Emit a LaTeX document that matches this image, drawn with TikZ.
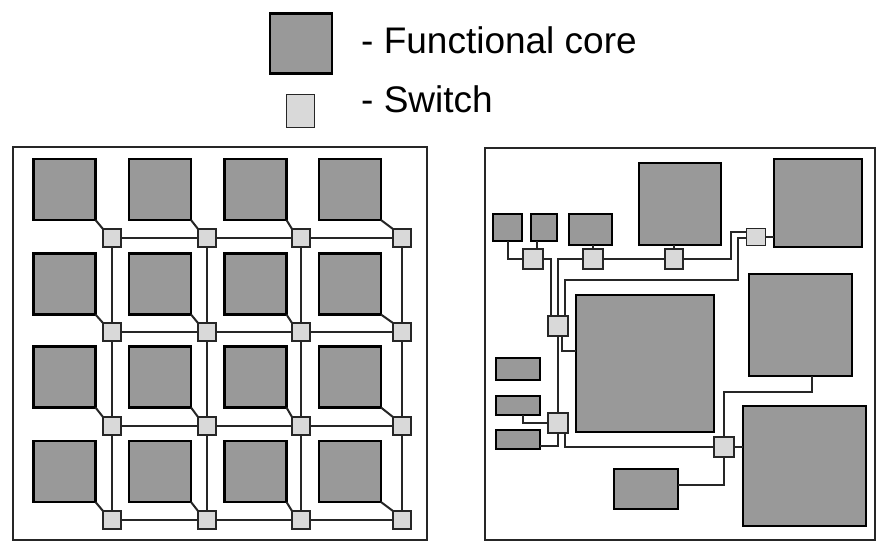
\documentclass[tikz,border=0pt]{standalone}
\usepackage{fontspec}
\setmainfont{Liberation Sans}
\begin{document}
\begin{tikzpicture}[
    x=1pt, y=-1pt,
    core/.style={rectangle, draw=black, line width=2.2pt, fill=black!40, inner sep=0pt, outer sep=0pt},
    gridcore/.style={core, minimum width=62pt, minimum height=61pt},
    sw/.style={rectangle, draw=black!85, line width=1.8pt, fill=black!15, inner sep=0pt, outer sep=0pt, minimum size=18pt},
    link/.style={draw=black!85, line width=2pt},
    legendtext/.style={font=\fontsize{37}{40}\selectfont, anchor=base west, inner sep=0pt}
]
\useasboundingbox (0,0) rectangle (876,542);

% Legend
\node[core, minimum width=62pt, minimum height=60pt] (lcore) at (301,43.5) {};
\node[sw, minimum width=28pt, minimum height=33pt] (lsw) at (300.5,111) {};
\node[legendtext] (tcore) at (361,53) {- Functional core};
\node[legendtext] (tsw) at (361,112) {- Switch};

% Panels
\draw[line width=2pt, draw=black!85] (13,147) rectangle (427,540);
\draw[line width=2pt, draw=black!85] (485,148) rectangle (875,540);

% Mesh - cores
\node[gridcore] (c11) at (64.5,189.5) {}; \node[gridcore] (c12) at (160,189.5) {}; \node[gridcore] (c13) at (255.5,189.5) {}; \node[gridcore] (c14) at (350,189.5) {};
\node[gridcore] (c21) at (64.5,284) {};   \node[gridcore] (c22) at (160,284) {};   \node[gridcore] (c23) at (255.5,284) {};   \node[gridcore] (c24) at (350,284) {};
\node[gridcore] (c31) at (64.5,377) {};   \node[gridcore] (c32) at (160,377) {};   \node[gridcore] (c33) at (255.5,377) {};   \node[gridcore] (c34) at (350,377) {};
\node[gridcore] (c41) at (64.5,471.5) {}; \node[gridcore] (c42) at (160,471.5) {}; \node[gridcore] (c43) at (255.5,471.5) {}; \node[gridcore] (c44) at (350,471.5) {};

% Mesh - switches
\node[sw] (s11) at (112,238) {}; \node[sw] (s12) at (207,238) {}; \node[sw] (s13) at (301,238) {}; \node[sw] (s14) at (402,238) {};
\node[sw] (s21) at (112,332) {}; \node[sw] (s22) at (207,332) {}; \node[sw] (s23) at (301,332) {}; \node[sw] (s24) at (402,332) {};
\node[sw] (s31) at (112,426) {}; \node[sw] (s32) at (207,426) {}; \node[sw] (s33) at (301,426) {}; \node[sw] (s34) at (402,426) {};
\node[sw] (s41) at (112,520) {}; \node[sw] (s42) at (207,520) {}; \node[sw] (s43) at (301,520) {}; \node[sw] (s44) at (402,520) {};

% Mesh - core to switch
\draw[link] (c11.south east) -- (s11.north west); \draw[link] (c12.south east) -- (s12.north west);
\draw[link] (c13.south east) -- (s13.north west); \draw[link] (c14.south east) -- (s14.north west);
\draw[link] (c21.south east) -- (s21.north west); \draw[link] (c22.south east) -- (s22.north west);
\draw[link] (c23.south east) -- (s23.north west); \draw[link] (c24.south east) -- (s24.north west);
\draw[link] (c31.south east) -- (s31.north west); \draw[link] (c32.south east) -- (s32.north west);
\draw[link] (c33.south east) -- (s33.north west); \draw[link] (c34.south east) -- (s34.north west);
\draw[link] (c41.south east) -- (s41.north west); \draw[link] (c42.south east) -- (s42.north west);
\draw[link] (c43.south east) -- (s43.north west); \draw[link] (c44.south east) -- (s44.north west);

% Mesh - rows
\draw[link] (s11) -- (s12) -- (s13) -- (s14);
\draw[link] (s21) -- (s22) -- (s23) -- (s24);
\draw[link] (s31) -- (s32) -- (s33) -- (s34);
\draw[link] (s41) -- (s42) -- (s43) -- (s44);

% Mesh - columns
\draw[link] (s11) -- (s21) -- (s31) -- (s41);
\draw[link] (s12) -- (s22) -- (s32) -- (s42);
\draw[link] (s13) -- (s23) -- (s33) -- (s43);
\draw[link] (s14) -- (s24) -- (s34) -- (s44);

% Custom - cores
\node[core, minimum width=29pt, minimum height=27pt] (ra) at (507.5,227.5) {};
\node[core, minimum width=26pt, minimum height=27pt] (rb) at (544,227.5) {};
\node[core, minimum width=43pt, minimum height=31pt] (rc) at (590.5,229.5) {};
\node[core, minimum width=82pt, minimum height=82pt] (rd) at (680,204) {};
\node[core, minimum width=88pt, minimum height=88pt] (re) at (818,203) {};
\node[core, minimum width=138pt, minimum height=137pt] (rf) at (645,363.5) {};
\node[core, minimum width=103pt, minimum height=102pt] (rg) at (800.5,325) {};
\node[core, minimum width=123pt, minimum height=120pt] (rh) at (804.5,466) {};
\node[core, minimum width=64pt, minimum height=40pt] (ri) at (646,489) {};
\node[core, minimum width=44pt, minimum height=22pt] (rj) at (518,369) {};
\node[core, minimum width=44pt, minimum height=19pt] (rk) at (518,405.5) {};
\node[core, minimum width=44pt, minimum height=19pt] (rl) at (518,439.5) {};

% Custom - switches
\node[sw, minimum size=20pt] (q1) at (533,259) {};
\node[sw, minimum size=20pt] (q2) at (593,259) {};
\node[sw, minimum width=18pt, minimum height=20pt] (q3) at (674,259) {};
\node[sw, minimum width=19pt, minimum height=17pt] (q4) at (756,237) {};
\node[sw, minimum size=20pt] (q5) at (558,326) {};
\node[sw, minimum size=20pt] (q6) at (558,423) {};
\node[sw, minimum size=20pt] (q7) at (724,447) {};

% Custom - bends
\coordinate (k1) at (731,232);
\coordinate (k2) at (738,280);
\coordinate (k4) at (812,392);

% Custom - links
\draw[link] (ra.south) |- (q1.west);
\draw[link] ([xshift=4pt]q1.north) -- ([xshift=4pt]q1.north |- rb.south);
\draw[link] (q2.north) -- (q2.north |- rc.south);
\draw[link] (q3.north) -- (q3.north |- rd.south);
\draw[link] (q1.east) -| ([xshift=-7pt]q5.north);
\draw[link] (q2.west) -| (q5.north);
\draw[link] (q2) -- (q3);
\draw[link] (q3.east) -| (k1) -- (k1 -| q4.west);
\draw[link] ([xshift=7pt]q5.north) |- (k2) |- ([yshift=-1pt]q4.west);
\draw[link] (q4.east) -- (q4.east -| re.west);
\draw[link] (q5.south) -- (q6.north);
\draw[link] ([xshift=4pt]q5.south) |- ([yshift=13pt]rf.west);
\draw[link] ([xshift=5pt]rk.south) |- (q6.west);
\draw[link] ([yshift=-6pt]rl.east) -| (q6.south);
\draw[link] ([xshift=7pt]q6.south) |- (q7.west);
\draw[link] (q7.north) |- (k4) -- (k4 |- rg.south);
\draw[link] (q7.east) -- (q7.east -| rh.west);
\draw[link] (q7.south) |- ([yshift=4pt]ri.east);

\end{tikzpicture}
\end{document}
